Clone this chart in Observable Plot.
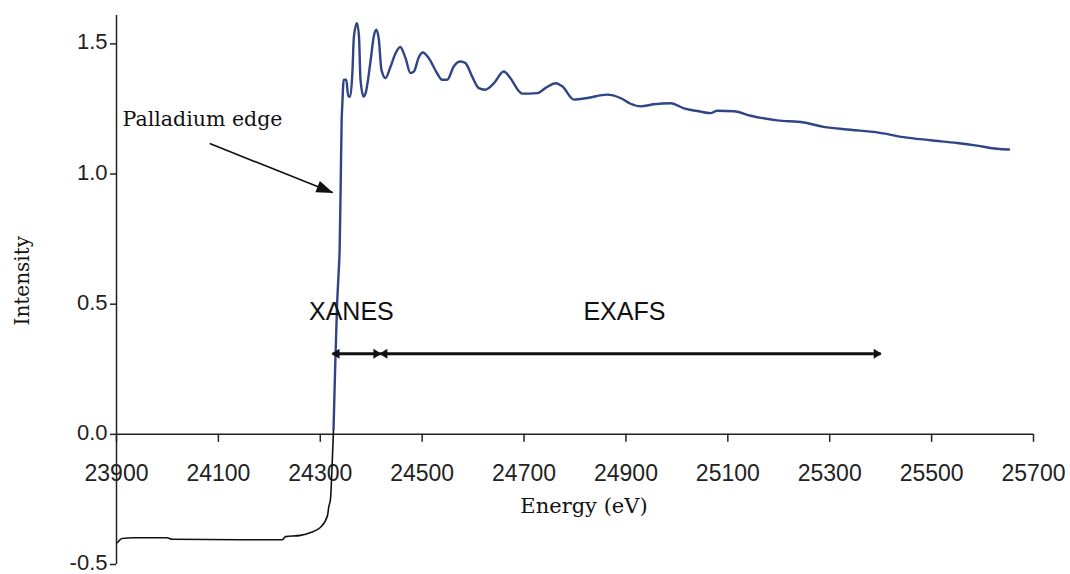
<!DOCTYPE html>
<html><head><meta charset="utf-8">
<script src="https://cdn.jsdelivr.net/npm/d3@7"></script>
<script src="https://cdn.jsdelivr.net/npm/@observablehq/plot@0.6"></script>
<style>
html,body{margin:0;padding:0;background:#fff;}
#chart svg{display:block;}
</style></head><body><div id="chart"></div>
<script>
// Pre-edge part of the spectrum (drawn black in the reference)
const preEdgeEnergy = [23902, 23911, 23933, 23999, 24009, 24143, 24225, 24232, 24261, 24281, 24300, 24314, 24317, 24320, 24323, 24326];
const preEdgeIntensity = [-0.416, -0.400, -0.397, -0.397, -0.403, -0.405, -0.405, -0.393, -0.388, -0.377, -0.358, -0.314, -0.275, -0.25, -0.13, 0.02];

// Edge and post-edge part (navy)
const edgeEnergy = [24326, 24329, 24333, 24336, 24338, 24340, 24342, 24343, 24346, 24351, 24355, 24359, 24363, 24366, 24372, 24376, 24379, 24385, 24389, 24399, 24405, 24410, 24415, 24420, 24428, 24438, 24448, 24457, 24467, 24477, 24484, 24493, 24501, 24513, 24529, 24539, 24549, 24562, 24575, 24585, 24598, 24611, 24624, 24641, 24660, 24673, 24690, 24696, 24726, 24742, 24762, 24775, 24798, 24824, 24863, 24889, 24909, 24929, 24955, 24988, 25014, 25043, 25066, 25079, 25112, 25145, 25197, 25249, 25288, 25341, 25393, 25445, 25498, 25550, 25589, 25629, 25652];
const edgeIntensity = [0.02, 0.24, 0.50, 0.62, 0.71, 0.95, 1.21, 1.255, 1.362, 1.362, 1.298, 1.298, 1.388, 1.528, 1.580, 1.528, 1.362, 1.298, 1.311, 1.439, 1.528, 1.554, 1.516, 1.401, 1.369, 1.413, 1.465, 1.488, 1.447, 1.388, 1.394, 1.447, 1.467, 1.445, 1.388, 1.362, 1.362, 1.413, 1.432, 1.426, 1.375, 1.330, 1.324, 1.349, 1.394, 1.369, 1.318, 1.309, 1.311, 1.330, 1.349, 1.337, 1.286, 1.292, 1.305, 1.292, 1.270, 1.260, 1.268, 1.272, 1.252, 1.241, 1.234, 1.243, 1.241, 1.224, 1.206, 1.198, 1.181, 1.170, 1.160, 1.142, 1.130, 1.119, 1.109, 1.097, 1.094];

// Axis ticks
const xTicks = [23900, 24100, 24300, 24500, 24700, 24900, 25100, 25300, 25500, 25700];
const yTicks = [-0.5, 0.0, 0.5, 1.0, 1.5];

// Region annotations
const regionNames = ["XANES", "EXAFS"];
const regionStart = [24324, 24418];
const regionEnd = [24418, 25400];
const regionLabelEnergy = [24361, 24897];
const regionArrowLevel = 0.31;
const regionLabelLevel = 0.47;

// Edge annotation
const edgeNote = ["Palladium edge"];
const edgeNoteEnergy = [23912];
const edgeNoteLevel = [1.21];
const edgeArrowFrom = [24083, 1.117];
const edgeArrowTo = [24324, 0.929];

const xTitle = "Energy (eV)";
const yTitle = "Intensity";

const pre = preEdgeEnergy.map((e, i) => ({e, v: preEdgeIntensity[i]}));
const post = edgeEnergy.map((e, i) => ({e, v: edgeIntensity[i]}));

function solidHead(len, half) {
  return (color) => {
    const ns = "http://www.w3.org/2000/svg";
    const m = document.createElementNS(ns, "marker");
    m.setAttribute("viewBox", `${-len} ${-half} ${len + 2} ${2 * half}`);
    m.setAttribute("markerUnits", "userSpaceOnUse");
    m.setAttribute("markerWidth", len + 2);
    m.setAttribute("markerHeight", 2 * half);
    m.setAttribute("refX", -1);
    m.setAttribute("refY", 0);
    m.setAttribute("orient", "auto-start-reverse");
    m.setAttribute("overflow", "visible");
    const p = document.createElementNS(ns, "path");
    p.setAttribute("d", `M${-len},${-half}L0,0L${-len},${half}Z`);
    p.setAttribute("fill", color);
    p.setAttribute("stroke", "none");
    m.appendChild(p);
    return m;
  };
}

const sans = "'Liberation Sans', Arial, sans-serif";
const serif = "'DejaVu Serif', serif";
const axisColor = "#222";

const chart = Plot.plot({
  width: 1070,
  height: 574,
  marginLeft: 116,
  marginRight: 37,
  marginTop: 15,
  marginBottom: 10,
  style: {background: "#fff", overflow: "visible"},
  x: {domain: [23900, 25700], axis: null},
  y: {domain: [-0.5, 1.609], axis: null},
  marks: [
    // axes lines
    Plot.ruleX([23900], {y1: -0.5, y2: 1.609, stroke: axisColor, strokeWidth: 1.5}),
    Plot.ruleY([0], {x1: 23900, x2: 25700, stroke: axisColor, strokeWidth: 1.5}),
    // x ticks (downward from y = 0)
    Plot.ruleX(xTicks, {x: d => d, y1: 0, y2: 0, insetBottom: -8, stroke: axisColor, strokeWidth: 1.5}),
    Plot.text(xTicks, {x: d => d, y: 0, dy: 39, text: d => String(d), fontSize: 23, fontFamily: sans, fill: "#222"}),
    // y ticks
    Plot.ruleY(yTicks, {y: d => d, x1: 23900, x2: 23900, insetLeft: -6, stroke: axisColor, strokeWidth: 1.5}),
    Plot.text(yTicks, {x: 23900, y: d => d, dx: -9, dy: -1.5, textAnchor: "end", text: d => d.toFixed(1), fontSize: 22, fontFamily: sans, fill: "#222"}),
    // axis titles
    Plot.text([xTitle], {x: 24800, y: 0, dx: 9, dy: 72, fontSize: 21, fontFamily: serif, fill: "#111"}),
    Plot.text([yTitle], {x: 23900, y: 0.59, dx: -94, rotate: -90, fontSize: 20, fontFamily: serif, fill: "#111"}),
    // spectrum
    Plot.line(pre, {x: "e", y: "v", stroke: "#111", strokeWidth: 1.6, curve: "monotone-x"}),
    Plot.line(post, {x: "e", y: "v", stroke: "#2f4585", strokeWidth: 2.4, curve: "monotone-x"}),
    // region arrows & labels
    Plot.link(regionNames, {
      x1: regionStart, x2: regionEnd,
      y1: regionNames.map(() => regionArrowLevel), y2: regionNames.map(() => regionArrowLevel),
      stroke: "#111", strokeWidth: 3,
      markerStart: solidHead(8, 5), markerEnd: solidHead(8, 5)
    }),
    Plot.text(regionNames, {x: regionLabelEnergy, y: regionNames.map(() => regionLabelLevel), text: d => d, fontSize: 25, fontFamily: sans, fill: "#111"}),
    // palladium edge note
    Plot.link([0], {x1: [edgeArrowFrom[0]], y1: [edgeArrowFrom[1]], x2: [edgeArrowTo[0]], y2: [edgeArrowTo[1]],
      stroke: "#111", strokeWidth: 1.6, markerEnd: solidHead(17, 6)}),
    Plot.text(edgeNote, {x: edgeNoteEnergy, y: edgeNoteLevel, text: d => d, textAnchor: "start", fontSize: 20.5, fontFamily: serif, fill: "#111"})
  ]
});
document.getElementById("chart").appendChild(chart);
</script>
</body></html>
